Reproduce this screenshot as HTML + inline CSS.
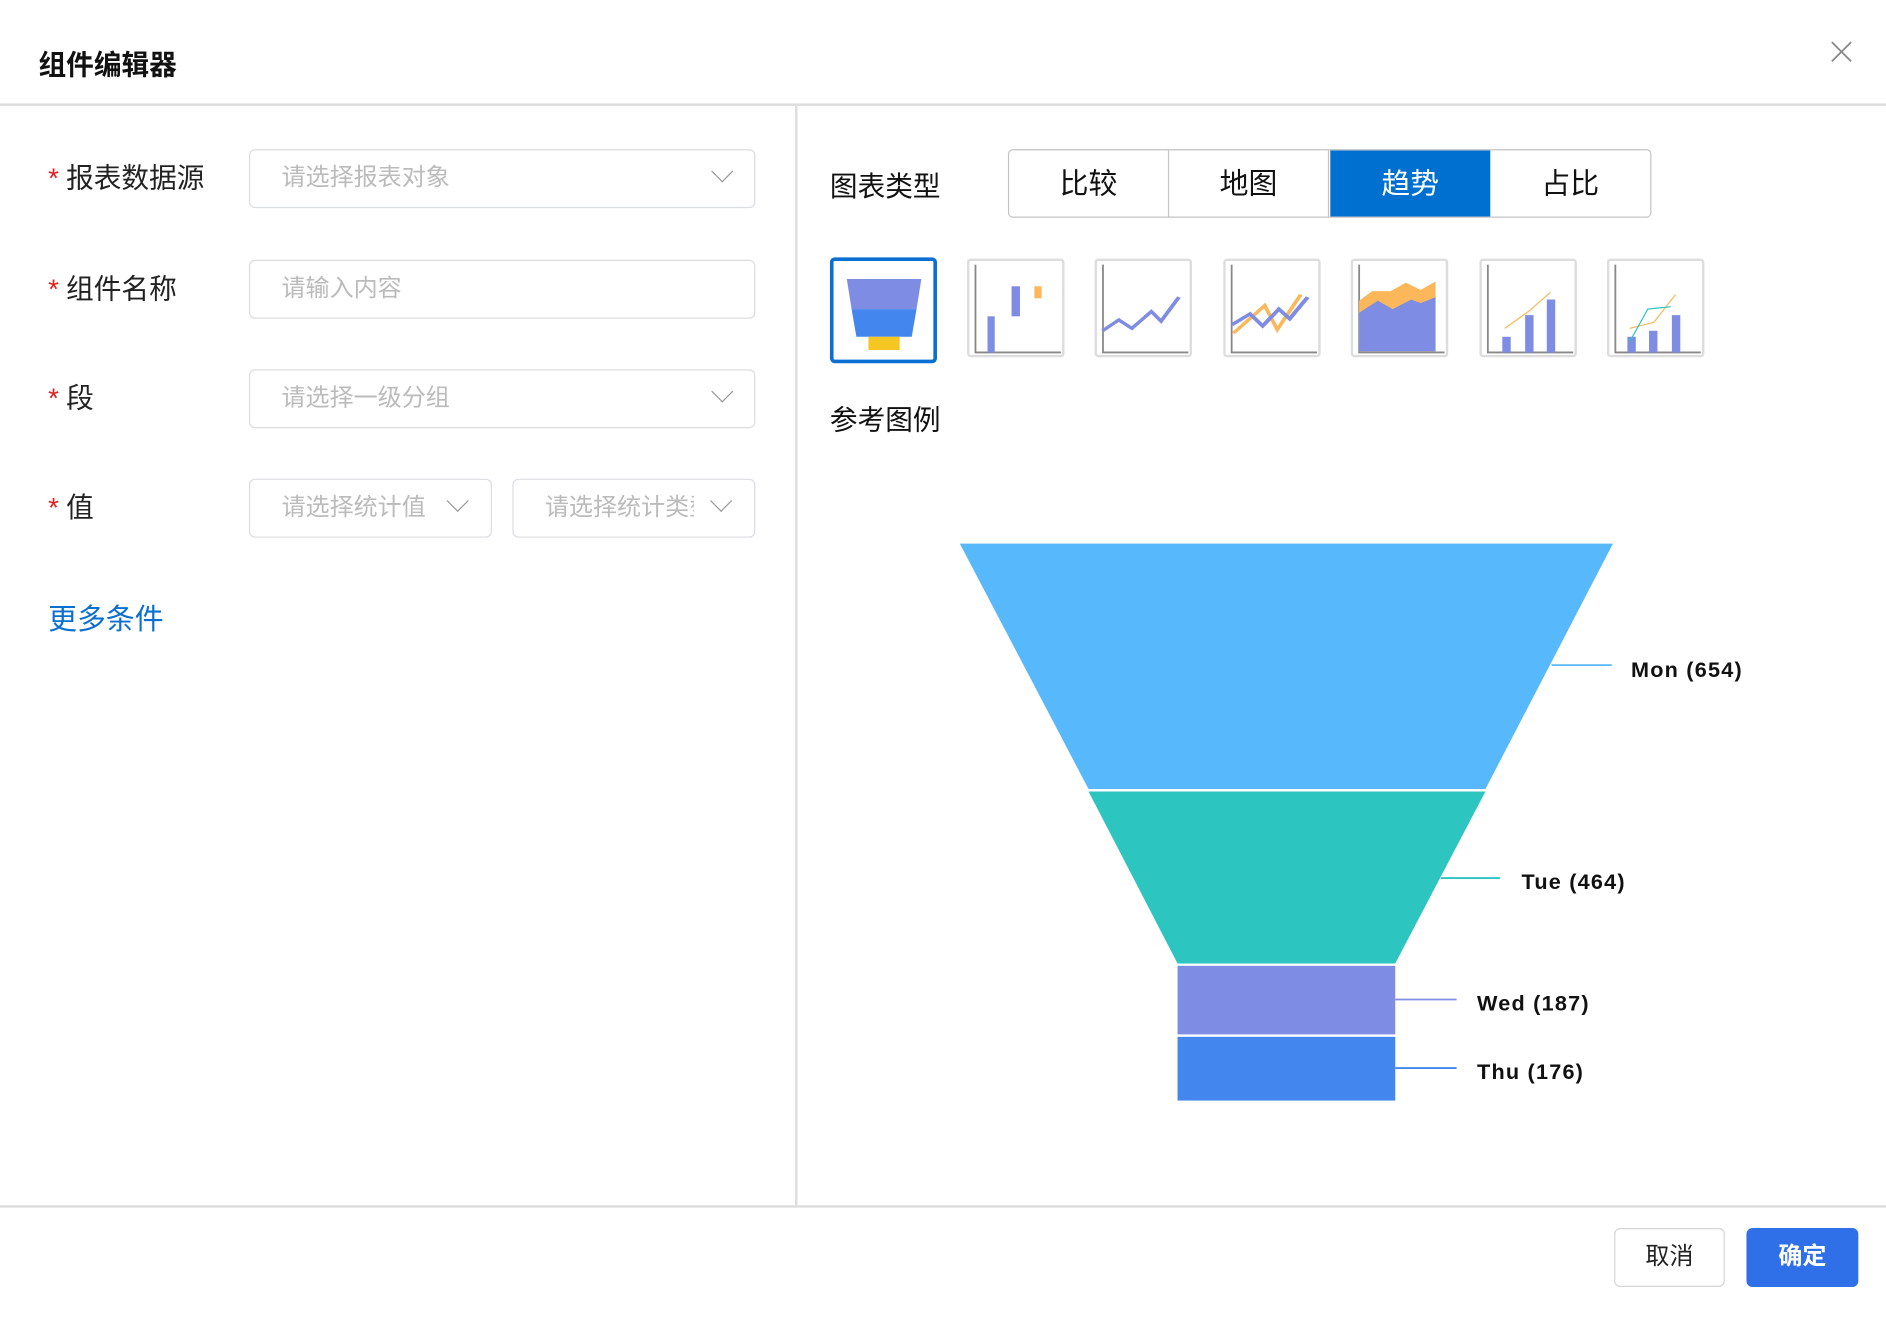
<!DOCTYPE html>
<html><head><meta charset="utf-8"><style>
html,body{margin:0;padding:0;background:#fff;}
body{width:1886px;height:1322px;overflow:hidden;font-family:"Liberation Sans","Noto Sans CJK SC",sans-serif;}
#w{position:absolute;left:0;top:0;width:1568px;height:1099px;transform:scale(1.2028);transform-origin:0 0;}
.a{position:absolute;}
.lbl{position:absolute;font-size:23px;color:#222;line-height:30px;}
.lbl b{color:#e02020;font-weight:normal;margin-right:6px;}
.inp{position:absolute;border:1.5px solid #dcdde2;border-radius:5px;height:49px;box-sizing:border-box;}
.ph{position:absolute;left:26px;top:10px;font-size:20px;color:#bbb;line-height:26px;white-space:nowrap;overflow:hidden;}
.chev{position:absolute;top:11px;width:12px;height:12px;border-right:1.5px solid #999;border-bottom:1.5px solid #999;transform:rotate(45deg);}
.tab{position:absolute;top:0;height:56px;width:133px;text-align:center;line-height:58px;font-size:24px;color:#111;box-sizing:border-box;}
.ic{position:absolute;top:215px;width:81px;height:82px;border:2px solid #ddd;border-radius:3px;box-sizing:border-box;}
.fl{position:absolute;font-size:18px;font-weight:bold;color:#111;letter-spacing:1px;}
</style></head><body><div id="w">
<div class="a" style="left:32px;top:35px;font-size:23px;font-weight:bold;color:#111;">组件编辑器</div>
<svg class="a" style="left:1522px;top:34px" width="18" height="18"><path d="M1 1L17 17M17 1L1 17" stroke="#888" stroke-width="1.5"/></svg>
<div class="a" style="left:0;top:86px;width:1568px;height:2px;background:#ddd"></div>
<div class="a" style="left:661px;top:88px;width:2px;height:914px;background:#ddd"></div>
<div class="a" style="left:0;top:1002px;width:1568px;height:2px;background:#ddd"></div>

<div class="lbl" style="left:40px;top:133px"><b>*</b>报表数据源</div>
<div class="inp" style="left:207px;top:124px;width:421px;"><div class="ph">请选择报表对象</div><div class="chev" style="left:386px"></div></div>
<div class="lbl" style="left:40px;top:225px"><b>*</b>组件名称</div>
<div class="inp" style="left:207px;top:216px;width:421px;"><div class="ph">请输入内容</div></div>
<div class="lbl" style="left:40px;top:316px"><b>*</b>段</div>
<div class="inp" style="left:207px;top:307px;width:421px;"><div class="ph">请选择一级分组</div><div class="chev" style="left:386px"></div></div>
<div class="lbl" style="left:40px;top:407px"><b>*</b>值</div>
<div class="inp" style="left:207px;top:398px;width:202px;"><div class="ph">请选择统计值</div><div class="chev" style="left:166px"></div></div>
<div class="inp" style="left:426px;top:398px;width:202px;"><div class="ph" style="width:124px">请选择统计类型</div><div class="chev" style="left:166px"></div></div>
<div class="a" style="left:40px;top:495px;font-size:24px;color:#0a6fd0;">更多条件</div>

<div class="a" style="left:690px;top:136px;font-size:23px;color:#111;">图表类型</div>
<div class="a" style="left:838px;top:124px;width:535px;height:57px;border:1.5px solid #c4c4c4;border-radius:4px;box-sizing:border-box;overflow:hidden;">
<div class="tab" style="left:0;border-right:1.5px solid #c4c4c4">比较</div>
<div class="tab" style="left:133px;border-right:1.5px solid #c4c4c4">地图</div>
<div class="tab" style="left:267px;background:#0070d0;color:#fff">趋势</div>
<div class="tab" style="left:400px">占比</div>
</div>

<div class="ic" style="left:690px;width:89px;height:88px;top:214px;border:3px solid #0a6fd0;border-radius:4px;">
<svg width="83" height="82"><polygon points="11,15 73,15 69,40 15,40" fill="#7f8ce3"/><polygon points="15,40 69,40 65,63 19,63" fill="#4286ee"/><rect x="29" y="63" width="26" height="11" fill="#f6c623"/></svg></div>
<div class="ic" style="left:804px"><svg width="77" height="78"><path d="M5 3V76H76" stroke="#888" stroke-width="1.5" fill="none"/><rect x="15" y="46" width="6" height="30" fill="#7f8ce3"/><rect x="35" y="21" width="7" height="25" fill="#7f8ce3"/><rect x="54" y="21" width="6" height="10" fill="#fbb75a"/></svg></div>
<div class="ic" style="left:910px"><svg width="77" height="78"><path d="M5 3V76H76" stroke="#888" stroke-width="1.5" fill="none"/><path d="M5 58L15 49L23 56L35 42L41 50L52 30" stroke="#7f8ce3" stroke-width="2.5" fill="none" transform="translate(0,0) scale(1.35,1) translate(-1.5,0)"/></svg></div>
<div class="ic" style="left:1017px"><svg width="77" height="78"><path d="M5 3V76H76" stroke="#888" stroke-width="1.5" fill="none"/><path d="M5 60L25 37L33 57L48 28" stroke="#fbb75a" stroke-width="2.5" fill="none" transform="scale(1.3,1)"/><path d="M5 53L15 44L22 54L31 40L37 48L47 30" stroke="#7f8ce3" stroke-width="2.5" fill="none" transform="scale(1.5,1) translate(-1.5,0)"/></svg></div>
<div class="ic" style="left:1123px"><svg width="77" height="78"><path d="M5 3V76H76" stroke="#888" stroke-width="1.5" fill="none"/><path d="M5 33L12 25H22L30 18L38 24L46 17V75H5Z" fill="#fbb75a" transform="scale(1.55,1) translate(-1.8,0)"/><path d="M5 43L15 33L23 40L33 32L38 35L46 30V75H5Z" fill="#7f8ce3" transform="scale(1.55,1) translate(-1.8,0)"/></svg></div>
<div class="ic" style="left:1230px"><svg width="77" height="78"><path d="M5 3V76H76" stroke="#888" stroke-width="1.5" fill="none"/><rect x="17" y="63" width="7" height="13" fill="#7f8ce3"/><rect x="36" y="45" width="7" height="31" fill="#7f8ce3"/><rect x="54" y="32" width="7" height="44" fill="#7f8ce3"/><path d="M19 56L40 41L57 26" stroke="#fbb75a" stroke-width="1" fill="none"/></svg></div>
<div class="ic" style="left:1336px"><svg width="77" height="78"><path d="M5 3V76H76" stroke="#888" stroke-width="1.5" fill="none"/><rect x="15" y="63" width="7" height="13" fill="#7f8ce3"/><rect x="33" y="58" width="7" height="18" fill="#7f8ce3"/><rect x="52" y="45" width="7" height="31" fill="#7f8ce3"/><path d="M17 56L37 51L55 28" stroke="#fbb75a" stroke-width="1" fill="none"/><path d="M17 67L32 40L51 38" stroke="#2cc5bf" stroke-width="1" fill="none"/></svg></div>

<div class="a" style="left:690px;top:330px;font-size:23px;color:#111;">参考图例</div>

<svg class="a" style="left:0;top:0" width="1568" height="1000">
<polygon points="798,452 1341,452 1235,656 905,656" fill="#57b8fc"/>
<polygon points="905,658 1235,658 1160,801 979,801" fill="#2cc5bf"/>
<rect x="979" y="803" width="181" height="57" fill="#7f8ce3"/>
<rect x="979" y="862" width="181" height="53" fill="#4286ee"/>
<line x1="1290" y1="553" x2="1340" y2="553" stroke="#57b8fc" stroke-width="1.5"/>
<line x1="1198" y1="730" x2="1247" y2="730" stroke="#2cc5bf" stroke-width="1.5"/>
<line x1="1160" y1="831" x2="1211" y2="831" stroke="#7f8ce3" stroke-width="1.5"/>
<line x1="1160" y1="888" x2="1211" y2="888" stroke="#4286ee" stroke-width="1.5"/>
</svg>
<div class="fl" style="left:1356px;top:547px">Mon (654)</div>
<div class="fl" style="left:1265px;top:723px">Tue (464)</div>
<div class="fl" style="left:1228px;top:824px">Wed (187)</div>
<div class="fl" style="left:1228px;top:881px">Thu (176)</div>

<div class="a" style="left:1342px;top:1021px;width:92px;height:49px;border:1.5px solid #d6d6d6;border-radius:5px;box-sizing:border-box;text-align:center;line-height:46px;font-size:20px;color:#222;">取消</div>
<div class="a" style="left:1452px;top:1021px;width:93px;height:49px;background:#2f6fe8;border-radius:5px;text-align:center;line-height:49px;font-size:20px;font-weight:bold;color:#fff;">确定</div>
</div></body></html>
